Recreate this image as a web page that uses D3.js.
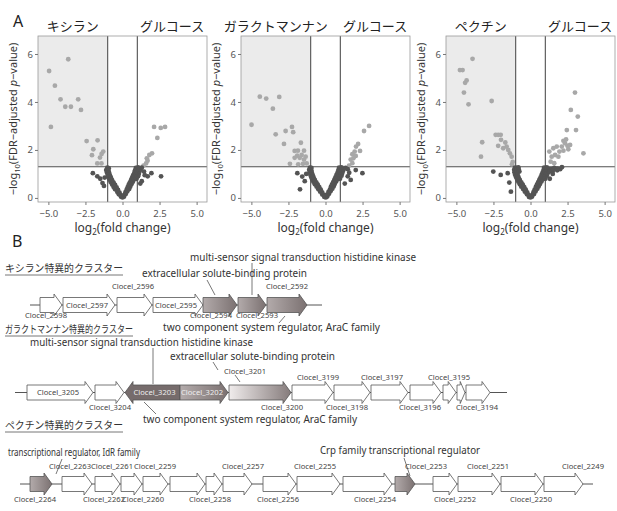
<!DOCTYPE html>
<html>
<head>
<meta charset="utf-8">
<script src="https://cdn.jsdelivr.net/npm/d3@7"></script>
<style>
  body { margin: 0; background: #fff; }
  svg { display: block; font-family: "Noto Sans", "Open Sans", sans-serif; }
  .jp { font-family: "Noto Sans CJK JP", sans-serif; }
</style>
</head>
<body>
<svg id="fig" width="617" height="511"></svg>
<script>
// ---------- panel A data: [log2 fold change, -log10 adjusted p] ----------
const xTicks = [-5, -2.5, 0, 2.5, 5];
const yTicks = [0, 2, 4, 6];
const fcCut = 1, pCut = 1.3;
const volcanoTitles = [['キシラン', 'グルコース'], ['ガラクトマンナン', 'グルコース'], ['ペクチン', 'グルコース']];

const xylanPts = [
  [-3.66,5.78],[-4.95,5.29],[-4.56,4.68],[-4.18,4.11],[-2.99,4.11],[-3.86,3.80],[-3.48,3.80],[-2.80,3.67],
  [-4.83,2.96],[-2.42,2.37],[-1.68,2.40],[-1.97,2.03],[-1.41,1.83],[-2.06,1.78],[-1.52,1.68],[-1.70,1.44],
  [-1.42,1.44],[-1.30,1.93],
  [2.13,2.96],[2.58,2.92],[2.87,2.96],[2.35,2.50],[1.99,1.86],[1.81,1.79],[1.64,1.65],[1.59,1.44],[1.42,1.35],[1.69,1.55],
  [-0.1,0.05],[0,0.02],[0.1,0.05],[-0.25,0.15],[-0.12,0.12],[0.12,0.13],[0.22,0.16],
  [-0.35,0.25],[-0.2,0.22],[0.2,0.24],[0.32,0.27],[-0.5,0.36],[-0.3,0.33],[0.28,0.34],[0.45,0.37],
  [-0.6,0.46],[-0.4,0.44],[0.35,0.45],[0.52,0.47],[-0.7,0.56],[-0.5,0.54],[0.42,0.55],[0.6,0.57],
  [-0.8,0.66],[-0.6,0.64],[0.5,0.65],[0.7,0.67],[-0.88,0.76],[-0.7,0.74],[0.58,0.75],[0.78,0.77],[0.95,0.8],
  [-0.95,0.86],[-0.78,0.84],[0.65,0.85],[0.85,0.87],[1.05,0.9],[-1.0,0.96],[-0.85,0.94],[0.72,0.95],[0.9,0.97],[1.1,1.0],
  [-1.05,1.06],[-0.9,1.04],[0.8,1.05],[0.95,1.07],[1.15,1.1],[-1.1,1.16],[-0.95,1.14],[0.85,1.15],[1.0,1.17],[1.2,1.2],
  [-1.02,1.26],[-0.93,1.24],[0.9,1.25],[1.05,1.27],[1.3,1.26],
  [-2.0,1.03],[-1.7,0.9],[-1.5,0.8],[-1.35,0.62],[-1.25,0.5],[-1.2,0.85],
  [1.95,1.03],[2.6,0.9],[1.7,0.9],[1.45,1.1],[1.3,0.7],[1.5,0.95],[1.2,0.6]
];

const galactoPts = [
  [-4.43,4.22],[-4.0,4.14],[-3.12,4.21],[-3.55,3.72],[-4.99,3.05],[-3.36,2.65],[-2.69,2.79],[-2.26,2.96],
  [-2.18,2.74],[-2.80,2.25],[-1.66,2.30],[-2.08,1.96],[-1.86,1.97],[-1.45,1.97],[-1.91,1.76],[-1.61,1.79],
  [-1.34,1.72],[-2.08,1.67],[-1.74,1.67],[-2.4,1.42],[-1.84,1.40],[-1.52,1.42],[-1.27,1.44],[-1.45,1.6],
  [2.94,3.0],[2.6,2.79],[2.2,2.25],[2.06,2.14],[2.33,1.96],[1.97,1.93],[1.81,1.82],[2.04,1.75],[1.88,1.65],
  [1.7,1.6],[1.81,1.45],[1.59,1.35],
  [-0.08,0.04],[0.02,0.02],[0.12,0.06],[-0.22,0.14],[-0.1,0.12],[0.1,0.14],[0.24,0.17],
  [-0.36,0.26],[-0.22,0.23],[0.2,0.25],[0.34,0.28],[-0.48,0.36],[-0.32,0.34],[0.3,0.35],[0.46,0.38],
  [-0.6,0.47],[-0.42,0.45],[0.36,0.46],[0.55,0.48],[-0.72,0.57],[-0.52,0.55],[0.44,0.56],[0.62,0.58],
  [-0.82,0.67],[-0.62,0.65],[0.52,0.66],[0.72,0.68],[-0.9,0.77],[-0.72,0.75],[0.6,0.76],[0.8,0.78],[0.98,0.8],
  [-0.97,0.87],[-0.8,0.85],[0.67,0.86],[0.87,0.88],[1.08,0.92],[-1.02,0.97],[-0.86,0.95],[0.74,0.96],[0.92,0.98],[1.12,1.02],
  [-1.07,1.07],[-0.92,1.05],[0.82,1.06],[0.97,1.08],[1.18,1.12],[-1.1,1.17],[-0.96,1.15],[0.87,1.16],[1.02,1.18],[1.22,1.2],
  [-1.05,1.26],[-0.95,1.25],[0.92,1.26],[1.08,1.27],[1.35,1.25],[1.5,1.2],
  [-1.9,1.03],[-1.72,0.36],[-1.57,0.89],[-1.3,1.0],[-1.4,0.7],
  [2.49,1.03],[2.04,1.16],[1.7,0.75],[1.5,0.9],[1.3,0.6],[1.6,1.05]
];

const pectinPts = [
  [-3.91,5.80],[-4.76,5.33],[-4.58,5.33],[-4.31,4.9],[-4.41,4.8],[-4.49,4.39],[-4.18,3.90],[-2.62,4.04],
  [-2.35,2.63],[-2.18,2.63],[-2.01,2.63],[-3.26,2.32],[-1.99,2.42],[-1.70,2.31],[-1.61,2.14],[-2.18,2.17],
  [-1.84,2.07],[-1.5,2.0],[-1.39,1.86],[-1.27,1.72],[-3.34,1.72],[-1.2,1.5],[-1.25,1.4],
  [3.0,4.39],[2.72,3.67],[3.19,3.39],[2.45,2.83],[3.07,2.83],[3.57,1.86],[2.22,2.38],[2.33,2.28],[2.49,2.17],
  [2.11,2.14],[1.77,2.14],[1.54,2.07],[1.95,1.93],[2.22,1.97],[2.55,2.03],[2.67,2.21],[2.4,2.44],[1.66,1.79],
  [1.88,1.72],[1.43,1.72],[1.36,1.51],[1.6,1.45],[1.27,1.93],
  [-0.1,0.04],[0,0.02],[0.1,0.05],[-0.24,0.15],[-0.12,0.12],[0.12,0.13],[0.24,0.16],
  [-0.38,0.26],[-0.22,0.23],[0.2,0.24],[0.34,0.27],[-0.5,0.37],[-0.32,0.34],[0.28,0.35],[0.46,0.38],
  [-0.62,0.47],[-0.42,0.45],[0.36,0.46],[0.55,0.48],[-0.72,0.57],[-0.52,0.55],[0.44,0.56],[0.64,0.58],
  [-0.82,0.67],[-0.62,0.65],[0.52,0.66],[0.74,0.68],[-0.9,0.77],[-0.72,0.75],[0.6,0.76],[0.82,0.78],[1.0,0.8],
  [-0.98,0.87],[-0.8,0.85],[0.68,0.86],[0.88,0.88],[1.1,0.92],[-1.04,0.97],[-0.86,0.95],[0.75,0.96],[0.94,0.98],[1.15,1.02],
  [-1.08,1.07],[-0.9,1.05],[-0.75,1.1],[0.82,1.06],[0.98,1.08],[1.2,1.12],[-1.1,1.17],[-0.94,1.15],[-0.8,1.2],
  [0.88,1.16],[1.04,1.18],[1.3,1.2],[-1.05,1.26],[-0.92,1.25],[-0.82,1.27],[0.92,1.26],[1.1,1.27],
  [1.4,1.2],[1.6,1.25],[1.8,1.22],[2.0,1.2],[1.3,1.1],[1.5,1.12],
  [-2.51,1.10],[-2.01,0.96],[-1.54,1.03],[-1.43,0.64],[-1.32,0.26],
  [2.12,1.28],[1.8,1.15],[1.5,1.0],[1.3,0.8]
];

// ---------- panel B data: gene clusters [locus, start, end, strand, kind] ----------
const clusterTitles = ['キシラン特異的クラスター', 'ガラクトマンナン特異的クラスター', 'ペクチン特異的クラスター'];

const xylanGenes = [
  ['Clocel_2598', 40, 62, 1, 'w'], ['Clocel_2597', 63, 115, 1, 'w'], ['Clocel_2596', 117, 152, 1, 'w'],
  ['Clocel_2595', 153, 203, 1, 'w'], ['Clocel_2594', 203, 237, 1, 'g'], ['Clocel_2593', 238, 266, 1, 'g'],
  ['Clocel_2592', 267, 307, 1, 'g']
];
const galactoGenes = [
  ['Clocel_3205', 27, 93, 1, 'w'], ['Clocel_3204', 95, 124, 1, 'w'], ['Clocel_3203', 125, 180, -1, 'd'],
  ['Clocel_3202', 180, 228, 1, 'g'], ['Clocel_3201', 229, 291, 1, 'l'], ['Clocel_3200', 292, 333, 1, 'w'],
  ['Clocel_3199', 334, 370, 1, 'w'], ['Clocel_3198', 371, 408, 1, 'w'], ['Clocel_3197', 410, 441, 1, 'w'],
  ['Clocel_3196', 443, 456, 1, 'w'], ['Clocel_3195', 457, 465, 1, 'w'], ['Clocel_3194', 466, 490, 1, 'w']
];
const pectinGenes = [
  ['Clocel_2264', 30, 52, 1, 'g'], ['Clocel_2263', 62, 92, 1, 'w'], ['Clocel_2262', 95, 120, 1, 'w'],
  ['Clocel_2261', 121, 142, 1, 'w'], ['Clocel_2260', 143, 168, 1, 'w'], ['Clocel_2259', 170, 205, 1, 'w'],
  ['Clocel_2258', 206, 222, 1, 'w'], ['Clocel_2257', 223, 252, 1, 'w'], ['Clocel_2256', 263, 296, 1, 'w'],
  ['Clocel_2255', 297, 340, 1, 'w'], ['Clocel_2254', 343, 392, 1, 'w'], ['Clocel_2253', 395, 415, 1, 'g'],
  ['Clocel_2252', 433, 457, 1, 'w'], ['Clocel_2251', 458, 500, 1, 'w'], ['Clocel_2250', 501, 543, 1, 'w'],
  ['Clocel_2249', 544, 583, 1, 'w']
];
const backbones = [[30, 322], [15, 507], [20, 593]];

// where each locus tag is written: in / above / below, and its centre
const xylanTags = [['below', 46], ['in'], ['above', 133], ['in'], ['below', 211], ['below', 257], ['above', 287]];
const galactoTags = [['in'], ['below', 110], ['in'], ['in'], ['above', 245, 6], ['below', 282], ['above', 318],
  ['below', 347], ['above', 382], ['below', 420], ['above', 449], ['below', 477]];
const pectinTags = [['below', 35], ['above', 70], ['below', 104], ['above', 112], ['below', 143], ['above', 155],
  ['below', 210], ['above', 243], ['below', 278], ['above', 315], ['below', 375], ['above', 426],
  ['below', 455], ['above', 488], ['below', 531], ['above', 583]];

// functional annotations: text, x-span, baseline, leader
const annotations = [
  ['multi-sensor signal transduction histidine kinase', 190, 416, 261, [[252, 263], [252, 295]]],
  ['extracellular solute-binding protein', 142, 307, 276.5, [[207, 280], [215, 295]]],
  ['two component system regulator, AraC family', 163, 380, 331, [[279, 323], [285, 316]]],
  ['multi-sensor signal transduction histidine kinase', 30, 253, 346, [[153, 348], [153, 384]]],
  ['extracellular solute-binding protein', 170, 335, 360, [[213, 362], [218, 370]]],
  ['two component system regulator, AraC family', 143, 357, 423, [[144, 402], [156, 414]]],
  ['transcriptional regulator, IdR family', 8, 140, 456, [[62, 459], [56, 474]]],
  ['Crp family transcriptional regulator', 320, 480, 454, [[404, 458], [410, 476]]]
];

// ---------- drawing ----------
const svg = d3.select('#fig');
const defs = svg.append('defs');

function addGrad(id, c0, c1) {
  const lg = defs.append('linearGradient').attr('id', id).attr('x1', 0).attr('x2', 1).attr('y1', 0).attr('y2', 0);
  lg.append('stop').attr('offset', 0).attr('stop-color', c0);
  lg.append('stop').attr('offset', 1).attr('stop-color', c1);
}
addGrad('gMid', '#b3abab', '#7b7171');
addGrad('gLight', '#f0ecec', '#857b7b');
const fills = { w: '#fff', g: 'url(#gMid)', l: 'url(#gLight)', d: '#766c6c' };

const panelLefts = [38, 241, 446];
const plotW = 169, plotTop = 36, plotBottom = 202;

svg.append('text').attr('x', 13).attr('y', 27).style('font-size', '16px').attr('fill', '#222').text('A');
svg.append('text').attr('x', 12).attr('y', 247).style('font-size', '16px').attr('fill', '#222').text('B');

function drawVolcano(i, pts) {
  const left = panelLefts[i];
  const x = d3.scaleLinear().domain([-5.7, 5.7]).range([left, left + plotW]);
  const y = d3.scaleLinear().domain([-0.17, 6.75]).range([plotBottom, plotTop]);
  const g = svg.append('g');

  g.append('rect').attr('x', left).attr('y', plotTop)
    .attr('width', x(-fcCut) - left).attr('height', y(pCut) - plotTop).attr('fill', '#ebebeb');

  g.append('line').attr('x1', x(-fcCut)).attr('x2', x(-fcCut)).attr('y1', plotTop).attr('y2', plotBottom);
  g.append('line').attr('x1', x(fcCut)).attr('x2', x(fcCut)).attr('y1', plotTop).attr('y2', plotBottom);
  g.append('line').attr('x1', left).attr('x2', left + plotW).attr('y1', y(pCut)).attr('y2', y(pCut));
  g.selectAll('line').attr('stroke', '#505050').attr('stroke-width', 1.1);

  g.append('g').selectAll('circle').data(pts).join('circle')
    .attr('cx', (d) => x(d[0])).attr('cy', (d) => y(d[1])).attr('r', 2.4)
    .attr('fill', (d) => (d[1] > pCut && Math.abs(d[0]) > fcCut ? '#a8a8a8' : '#545454'));

  g.append('rect').attr('x', left).attr('y', plotTop).attr('width', plotW).attr('height', plotBottom - plotTop)
    .attr('fill', 'none').attr('stroke', '#9a9a9a').attr('stroke-width', 0.8);

  const ax = g.append('g').attr('transform', `translate(0,${plotBottom})`)
    .call(d3.axisBottom(x).tickValues(xTicks).tickFormat(d3.format('.1f')).tickSize(3).tickPadding(5));
  const ay = g.append('g').attr('transform', `translate(${left},0)`)
    .call(d3.axisLeft(y).tickValues(yTicks).tickFormat(d3.format('d')).tickSize(3).tickPadding(2));
  [ax, ay].forEach((a) => {
    a.select('.domain').remove();
    a.selectAll('line').attr('stroke', '#777');
    a.selectAll('text').attr('fill', '#555').style('font-size', '9.5px').style('font-family', '"Noto Sans", sans-serif');
  });

  const xl = g.append('text').attr('x', left + plotW / 2).attr('y', 232).attr('text-anchor', 'middle')
    .style('font-size', '12px').attr('fill', '#333');
  xl.append('tspan').text('log');
  xl.append('tspan').attr('dy', 3).style('font-size', '8px').text('2');
  xl.append('tspan').attr('dy', -3).text('(fold change)');

  const yl = g.append('text').attr('transform', `translate(${left - 21},119) rotate(-90)`).attr('text-anchor', 'middle')
    .style('font-size', '11px').attr('fill', '#333');
  yl.append('tspan').text('−log');
  yl.append('tspan').attr('dy', 3).style('font-size', '7.5px').text('10');
  yl.append('tspan').attr('dy', -3).text('(FDR−adjusted ');
  yl.append('tspan').style('font-style', 'italic').text('p');
  yl.append('tspan').text('−value)');

  g.selectAll('text.ttl').data(volcanoTitles[i]).join('text').attr('class', 'ttl jp')
    .attr('x', (d, k) => (k === 0 ? (left + x(-fcCut)) / 2 : (x(fcCut) + left + plotW) / 2))
    .attr('y', 31).attr('text-anchor', 'middle').style('font-size', '13px').attr('fill', '#222')
    .text((d) => d);
}
[xylanPts, galactoPts, pectinPts].forEach((p, i) => drawVolcano(i, p));

// ---------- gene clusters ----------
const gx = d3.scaleLinear().domain([0, 617]).range([0, 617]);
const rowY = [305, 392.5, 484];
const aboveOff = [16.5, 13, 15], belowOff = [13, 17.5, 18];
const bodyH = 7.5, headH = 11, headL = 8;

function arrowPath(s, e, dir, cy) {
  const hl = Math.min(headL, (e - s) * 0.6);
  if (dir > 0) {
    const b = e - hl;
    return `M${s},${cy - bodyH}L${b},${cy - bodyH}L${b},${cy - headH}L${e},${cy}L${b},${cy + headH}L${b},${cy + bodyH}L${s},${cy + bodyH}Z`;
  }
  const b = s + hl;
  return `M${e},${cy - bodyH}L${b},${cy - bodyH}L${b},${cy - headH}L${s},${cy}L${b},${cy + headH}L${b},${cy + bodyH}L${e},${cy + bodyH}Z`;
}

const headerSpans = [[5, 123, 272], [5, 133, 333], [5, 123, 429]];
clusterTitles.forEach((t, i) => {
  const [x0, x1, yb] = headerSpans[i];
  svg.append('text').attr('class', 'jp').attr('x', x0).attr('y', yb)
    .attr('textLength', x1 - x0).attr('lengthAdjust', 'spacingAndGlyphs')
    .style('font-size', '10.5px').attr('fill', '#333').text(t);
  svg.append('line').attr('x1', x0).attr('x2', x1).attr('y1', yb + 3).attr('y2', yb + 3)
    .attr('stroke', '#666').attr('stroke-width', 0.9);
});

annotations.forEach(([t, x0, x1, yb, leader]) => {
  svg.append('path').attr('d', d3.line()(leader)).attr('stroke', '#555').attr('stroke-width', 0.8).attr('fill', 'none');
  svg.append('text').attr('x', x0).attr('y', yb).attr('textLength', x1 - x0).attr('lengthAdjust', 'spacingAndGlyphs')
    .style('font-size', '10px').attr('fill', '#333').text(t);
});

[[xylanGenes, xylanTags], [galactoGenes, galactoTags], [pectinGenes, pectinTags]].forEach(([genes, tags], r) => {
  const cy = rowY[r];
  const g = svg.append('g');
  g.append('line').attr('x1', gx(backbones[r][0])).attr('x2', gx(backbones[r][1])).attr('y1', cy).attr('y2', cy)
    .attr('stroke', '#555').attr('stroke-width', 1);

  g.selectAll('path.gene').data(genes).join('path').attr('class', 'gene')
    .attr('d', (d) => arrowPath(gx(d[1]), gx(d[2]), d[3], cy))
    .attr('fill', (d) => fills[d[4]]).attr('stroke', '#555').attr('stroke-width', 0.8);

  g.selectAll('text.tag').data(genes).join('text').attr('class', 'tag')
    .attr('x', (d, k) => (tags[k][0] === 'in' ? (gx(d[1]) + gx(d[2])) / 2 - 22 + (d[3] < 0 ? 3 : -1) : tags[k][1] - 21))
    .attr('y', (d, k) => {
      const side = tags[k][0];
      if (side === 'in') return cy + 2.8;
      if (side === 'above') return cy - aboveOff[r] - (tags[k][2] || 0);
      return cy + belowOff[r];
    })
    .attr('textLength', 42).attr('lengthAdjust', 'spacingAndGlyphs')
    .style('font-size', '7.5px')
    .attr('fill', (d, k) => (tags[k][0] === 'in' && d[4] !== 'w' ? '#eee' : '#444'))
    .text((d) => d[0]);
});
// leader for the raised Clocel_3201 tag
svg.append('path').attr('d', d3.line()([[235, 375], [240, 382]])).attr('stroke', '#555').attr('stroke-width', 0.8);
</script>
</body>
</html>
